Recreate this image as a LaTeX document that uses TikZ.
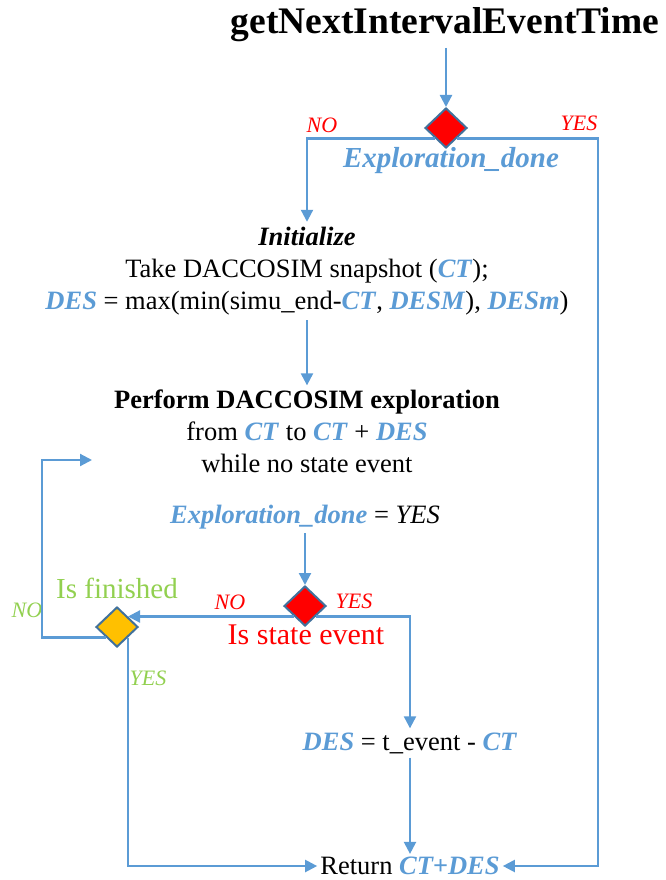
\documentclass[tikz,border=0pt]{standalone}
\usepackage{fontspec}
\setmainfont{Liberation Serif}
\usetikzlibrary{shapes.geometric,arrows.meta}
\definecolor{lblue}{HTML}{5B9BD5}
\definecolor{dborder}{HTML}{41719C}
\definecolor{dred}{HTML}{FF0000}
\definecolor{dgreen}{HTML}{92D050}
\definecolor{dorange}{HTML}{FFC000}
\newcommand{\hl}[1]{\textcolor{lblue}{\textbf{\textit{#1}}}}
\begin{document}
\begin{tikzpicture}[x=1pt,y=-1pt,
  conn/.style={draw=lblue,line width=2.2pt,-{Triangle[length=12pt,width=12pt]}},
  dec/.style={diamond,draw=dborder,line width=2pt,inner sep=0pt,minimum width=42pt,minimum height=40pt},
  txt/.style={font=\fontsize{26.5}{32}\selectfont,align=center,inner sep=0pt},
  lab/.style={font=\fontsize{22}{24}\selectfont\itshape,inner sep=0pt},
]
\useasboundingbox (0,0) rectangle (666,880);

\node[font=\fontsize{37.5}{40}\selectfont\bfseries,inner sep=2pt] (title) at (445,25) {getNextIntervalEventTime};
\node[dec,fill=dred] (d1) at (446,128) {};
\node[lab,text=dred] (no1) at (322,125) {NO};
\node[lab,text=dred] (yes1) at (579,123) {YES};
\node[txt,font=\fontsize{29}{32}\selectfont] (ed1) at (451,161) {\hl{Exploration\_done}};

\node[txt,inner ysep=5pt] (init) at (307,271) {\textbf{\textit{Initialize}}\\
Take DACCOSIM snapshot (\hl{CT});\\
\hl{DES} = max(min(simu\_end-\hl{CT}, \hl{DESM}), \hl{DESm})};

\node[txt,inner ysep=4pt] (perf) at (307,431) {\textbf{Perform DACCOSIM exploration}\\
from \hl{CT} to \hl{CT} + \hl{DES}\\
while no state event};
\node[txt,inner ysep=4pt] (ed2) at (305,517) {\hl{Exploration\_done} = \textit{YES}};

\node[dec,fill=dred] (d2) at (305,606) {};
\node[lab,text=dred] (no2) at (230,602) {NO};
\node[lab,text=dred] (yes2) at (354,601) {YES};
\node[txt,text=dred,font=\fontsize{30}{32}\selectfont] (ise) at (306,635) {Is state event};

\node[dec,fill=dorange] (d3) at (117,627) {};
\node[txt,text=dgreen,font=\fontsize{29}{32}\selectfont] (isf) at (117,588) {Is finished};
\node[lab,text=dgreen] (no3) at (27,610) {NO};
\node[lab,text=dgreen] (yes3) at (148,678) {YES};

\node[txt,inner ysep=4pt] (des) at (410,743) {\hl{DES} = t\_event - \hl{CT}};
\node[txt,inner sep=3pt] (ret) at (410,866) {Return \hl{CT+DES}};

\coordinate (lp) at (42,460);
\coordinate (lpend) at (92,460);
\coordinate (rt) at (598,866);
\coordinate (t1) at (446,48);

\draw[conn] (t1) -- (d1.north);
\draw[conn] (d1.south west) -| (init.north);
\draw[conn] (d1.south east) -| (rt) -- (ret.east);
\draw[conn] (init.south) -- (perf.north);
\draw[conn] (ed2.south) -- (d2.north);
\draw[conn] (d2.south west) -- (d3.north east);
\draw[conn] (d2.south east) -| (des.north);
\draw[conn] (des.south) -- (ret.north);
\draw[conn] (d3.south west) -| (lp) -- (lpend);
\draw[conn] (d3.south east) |- (ret.west);
\end{tikzpicture}
\end{document}
